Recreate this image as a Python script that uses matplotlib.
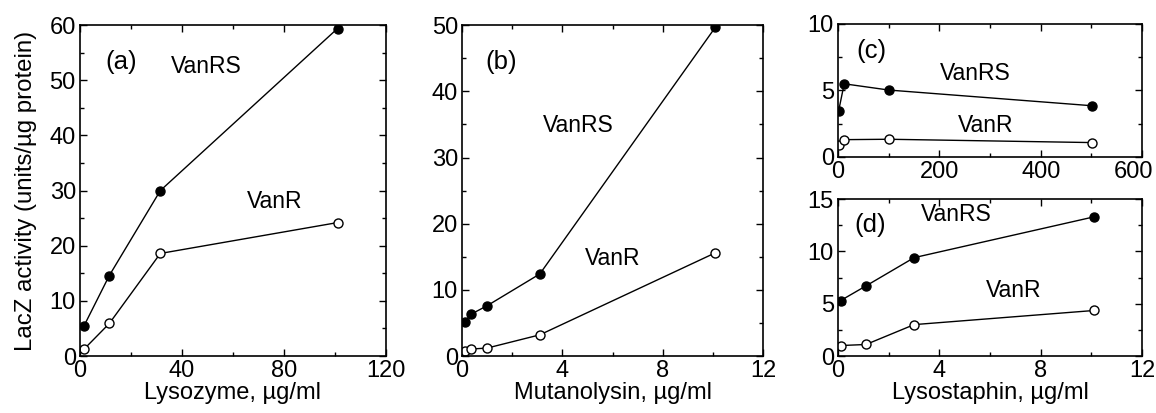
import matplotlib
matplotlib.use("Agg")
from matplotlib import pyplot as plt
from matplotlib.ticker import MultipleLocator
from matplotlib.transforms import ScaledTranslation

plt.rcParams['font.family'] = ['Liberation Sans', 'DejaVu Sans']

# (a) lysozyme
lyso_x = [1.5, 11.5, 31.5, 101]
lyso_vanrs = [5.4, 14.6, 30.0, 59.4]
lyso_vanr = [1.2, 5.9, 18.6, 24.2]

# (b) mutanolysin
muta_x = [0.1, 0.35, 1.0, 3.1, 10.1]
muta_vanrs = [5.1, 6.3, 7.6, 12.4, 49.7]
muta_vanr = [0.8, 1.05, 1.2, 3.2, 15.6]

# (c) lysostaphin, wide range
lsw_x = [1, 12, 100, 501]
lsw_vanrs = [3.45, 5.5, 5.03, 3.85]
lsw_vanr = [0.9, 1.3, 1.33, 1.08]

# (d) lysostaphin, low range
lsn_x = [0.1, 1.1, 3.0, 10.1]
lsn_vanrs = [5.3, 6.7, 9.4, 13.3]
lsn_vanr = [1.0, 1.1, 3.0, 4.35]


def draw(ax, x, rs, r, xlim, ylim, xmaj, xmin, ymaj, ymin):
    ax.plot(x, rs, '-o', color='black', lw=1, ms=6.5, mfc='black', mec='black')
    ax.plot(x, r, '-o', color='black', lw=1, ms=6.5, mfc='white', mec='black', mew=1)
    ax.set_xlim(*xlim)
    ax.set_ylim(*ylim)
    ax.xaxis.set_major_locator(MultipleLocator(xmaj))
    ax.xaxis.set_minor_locator(MultipleLocator(xmin))
    ax.yaxis.set_major_locator(MultipleLocator(ymaj))
    ax.yaxis.set_minor_locator(MultipleLocator(ymin))
    ax.tick_params(which='both', direction='in', top=True, right=True, labelsize=17, pad=3)
    ax.tick_params(which='major', length=5, width=1)
    ax.tick_params(which='minor', length=3, width=1)
    for s in ax.spines.values():
        s.set_linewidth(1.2)


fig = plt.figure(figsize=(11.56, 4.13), dpi=100)
ax_a = fig.add_axes([0.0692, 0.138, 0.2647, 0.801])
ax_b = fig.add_axes([0.3997, 0.138, 0.2604, 0.801])
ax_c = fig.add_axes([0.725, 0.620, 0.263, 0.322])
ax_d = fig.add_axes([0.725, 0.138, 0.263, 0.380])

draw(ax_a, lyso_x, lyso_vanrs, lyso_vanr, (0, 120), (0, 60), 40, 20, 10, 5)
draw(ax_b, muta_x, muta_vanrs, muta_vanr, (0, 12), (0, 50), 4, 2, 10, 5)
draw(ax_c, lsw_x, lsw_vanrs, lsw_vanr, (0, 600), (0, 10), 200, 100, 5, 2.5)
draw(ax_d, lsn_x, lsn_vanrs, lsn_vanr, (0, 12), (0, 15), 4, 2, 5, 2.5)

ax_a.set_xlabel('Lysozyme, \u00b5g/ml', fontsize=17, labelpad=0)
ax_a.set_ylabel('LacZ activity (units/\u00b5g protein)', fontsize=17.3)
ax_a.yaxis.set_label_coords(-0.14, 0.5)
ax_b.set_xlabel('Mutanolysin, \u00b5g/ml', fontsize=17, labelpad=0)
ax_d.set_xlabel('Lysostaphin, \u00b5g/ml', fontsize=17, labelpad=0)

# the reference pulls "600" a little left so it stays inside the page
fig.canvas.draw()
for lab in ax_c.get_xticklabels():
    if lab.get_text() == '600':
        lab.set_transform(lab.get_transform() + ScaledTranslation(-9 / 100, 0, fig.dpi_scale_trans))

labels = [
    (ax_a, '(a)', 0.136, 0.889, 'VanRS', 0.414, 0.874, 'VanR', 0.637, 0.466),
    (ax_b, '(b)', 0.130, 0.889, 'VanRS', 0.386, 0.698, 'VanR', 0.50, 0.295),
    (ax_c, '(c)', 0.111, 0.80, 'VanRS', 0.45, 0.63, 'VanR', 0.484, 0.24),
    (ax_d, '(d)', 0.107, 0.834, 'VanRS', 0.39, 0.90, 'VanR', 0.577, 0.42),
]
for ax, p, px, py, t1, x1, y1, t2, x2, y2 in labels:
    ax.text(px, py, p, transform=ax.transAxes, fontsize=18.5, ha='center', va='center')
    ax.text(x1, y1, t1, transform=ax.transAxes, fontsize=16.5, ha='center', va='center')
    ax.text(x2, y2, t2, transform=ax.transAxes, fontsize=16.5, ha='center', va='center')

fig.savefig('out.png', dpi=100)
